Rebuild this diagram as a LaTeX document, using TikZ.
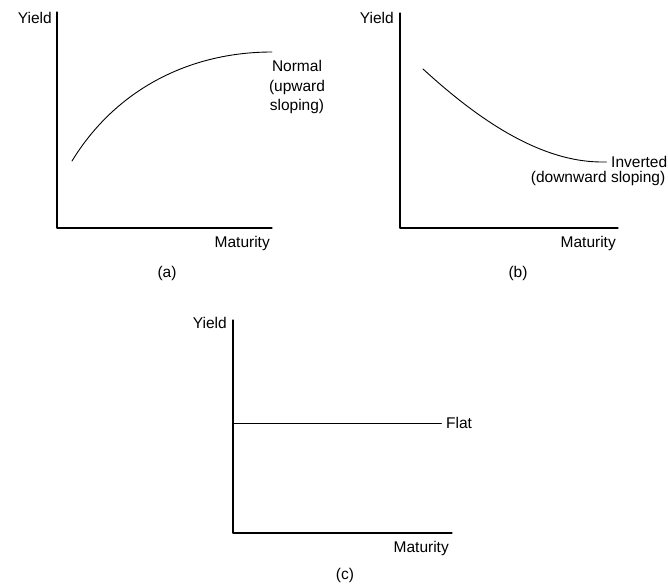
\documentclass[tikz,border=0pt]{standalone}
\usepackage{fontspec}
\setmainfont{Liberation Sans}
\begin{document}
\begin{tikzpicture}[line cap=round,line join=round,x=10pt,y=10pt,
	axis/.style={line width=1.2pt},
	curve/.style={line width=0.9pt},
	lbl/.style={font=\fontsize{15.5}{19.5}\selectfont,inner sep=1pt},
	tag/.style={lbl,anchor=west,inner xsep=4.5pt}]
			\useasboundingbox (0,0) rectangle (66.8,58.7);
			\coordinate (re) at (66.65,0);
			% (a) normal
			\coordinate (Oa) at (5.7,35.9);
			\draw [axis] (5.7,57.5)-- (Oa)-- (27.2,35.9);
			\draw [curve] (7.2,42.6) .. controls (11.6,49.8) and (19,53.5) .. (27.2,53.5);
			\node[lbl,anchor=east] (ya) at (5.3,56.9) {Yield};
			\node[lbl,anchor=east] (ma) at (27.1,34.4) {Maturity};
			\node[lbl,align=center] (na) at (29.7,50.0) {Normal\\(upward\\sloping)};
			\node[lbl] (ca) at (16.7,31.4) {(a)};
			% (b) inverted
			\coordinate (Ob) at (40.0,35.9);
			\draw [axis] (40.0,57.4)-- (Ob)-- (61.8,35.9);
			\node[tag] (ib) at (60.65,42.5) {Inverted};
			\node[lbl,anchor=north east] (db) at ([yshift=-1pt]ib.south -| re) {(downward sloping)};
			\draw [curve] (42.3,51.8) .. controls (47,47.5) and (53.5,42.5) .. (60.2,42.5)-- (ib.west);
			\node[lbl,anchor=east] (yb) at (39.5,56.9) {Yield};
			\node[lbl,anchor=east] (mb) at (61.7,34.4) {Maturity};
			\node[lbl] (cb) at (51.8,31.4) {(b)};
			% (c) flat
			\coordinate (Oc) at (23.3,5.4);
			\coordinate (Fc) at (23.3,16.4);
			\draw [axis] (23.3,26.7)-- (Oc)-- (45.2,5.4);
			\node[tag] (fc) at (44.15,16.4) {Flat};
			\draw [curve] (Fc)-- (fc.west);
			\node[lbl,anchor=east] (yc) at (22.8,26.4) {Yield};
			\node[lbl,anchor=east] (mc) at (45.0,3.9) {Maturity};
			\node[lbl] (cc) at (34.5,1.2) {(c)};
\end{tikzpicture}
\end{document}
